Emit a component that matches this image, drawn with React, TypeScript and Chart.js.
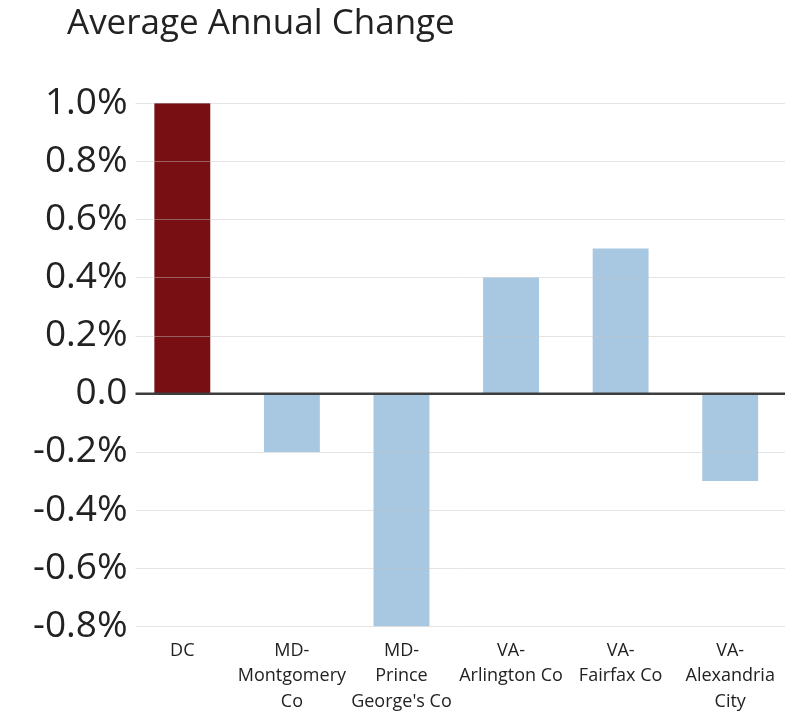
import React, { useEffect, useRef } from "react";
import { Chart, registerables } from "chart.js";

Chart.register(...registerables);

const TITLE = "Average Annual Change";
const categories: (string | string[])[] = [
  "DC",
  ["MD-", "Montgomery", "Co"],
  ["MD-", "Prince", "George's Co"],
  ["VA-", "Arlington Co"],
  ["VA-", "Fairfax Co"],
  ["VA-", "Alexandria", "City"],
];
const values = [1.0, -0.2, -0.8, 0.4, 0.5, -0.3];
const barColors = ["#780f12", "#a8c7e0", "#a8c7e0", "#a8c7e0", "#a8c7e0", "#a8c7e0"];
const yMin = -0.8;
const yMax = 1.0;
const yStep = 0.2;

const FONT = "'Open Sans', 'DejaVu Sans', sans-serif";

const titlePlugin = {
  id: "leftTitle",
  afterDraw(chart: any) {
    const ctx = chart.ctx;
    ctx.save();
    ctx.font = `35px ${FONT}`;
    ctx.fillStyle = "#222";
    ctx.textAlign = "left";
    ctx.textBaseline = "alphabetic";
    ctx.fillText(TITLE, 67, 34);
    ctx.restore();
  },
};

// horizontal grid lines drawn over the bars, starting a little right of the chart area
const gridPlugin = {
  id: "overGrid",
  afterDatasetsDraw(chart: any) {
    const ctx = chart.ctx;
    const y = chart.scales.y;
    const { left, right } = chart.chartArea;
    ctx.save();
    let zeroPx: number | null = null;
    y.ticks.forEach((t: any) => {
      const py = y.getPixelForValue(t.value);
      if (Math.abs(t.value) < 1e-9) {
        zeroPx = py;
        return;
      }
      ctx.strokeStyle = "rgba(195,195,195,0.45)";
      ctx.lineWidth = 1;
      ctx.beginPath();
      ctx.moveTo(left + 8, Math.round(py) + 0.5);
      ctx.lineTo(right, Math.round(py) + 0.5);
      ctx.stroke();
    });
    if (zeroPx !== null) {
      ctx.strokeStyle = "#3d3d3d";
      ctx.lineWidth = 2.5;
      ctx.beginPath();
      ctx.moveTo(left + 8, zeroPx);
      ctx.lineTo(right, zeroPx);
      ctx.stroke();
    }
    ctx.restore();
  },
};

export default function App() {
  const ref = useRef<HTMLCanvasElement | null>(null);
  useEffect(() => {
    if (!ref.current) return;
    const chart = new Chart(ref.current, {
      type: "bar",
      data: {
        labels: categories,
        datasets: [
          {
            data: values,
            backgroundColor: barColors,
            borderWidth: 0,
            barPercentage: 0.51,
            categoryPercentage: 1,
          },
        ],
      },
      plugins: [titlePlugin, gridPlugin],
      options: {
        animation: false,
        responsive: true,
        maintainAspectRatio: false,
        layout: { padding: { top: 103, left: 33, right: 5, bottom: 0 } },
        plugins: {
          legend: { display: false },
          tooltip: { enabled: false },
          title: { display: false },
        },
        scales: {
          x: {
            grid: { display: false },
            border: { display: false },
            ticks: {
              color: "#222",
              font: { family: FONT, size: 18, lineHeight: 1.4 },
              padding: 4,
              maxRotation: 0,
              autoSkip: false,
            },
          },
          y: {
            min: yMin,
            max: yMax,
            border: { display: false },
            grid: { display: false, drawTicks: false },
            ticks: {
              stepSize: yStep,
              color: "#222",
              padding: 0,
              font: { family: FONT, size: 37 },
              callback: (v: any) => {
                const n = Number(v);
                if (Math.abs(n) < 1e-9) return "0.0";
                return n.toFixed(1) + "%";
              },
            },
          },
        },
      },
    });
    return () => chart.destroy();
  }, []);
  return (
    <div style={{ position: "fixed", left: 0, top: 0, width: 790, height: 718, background: "#fff" }}>
      <canvas ref={ref} />
    </div>
  );
}
